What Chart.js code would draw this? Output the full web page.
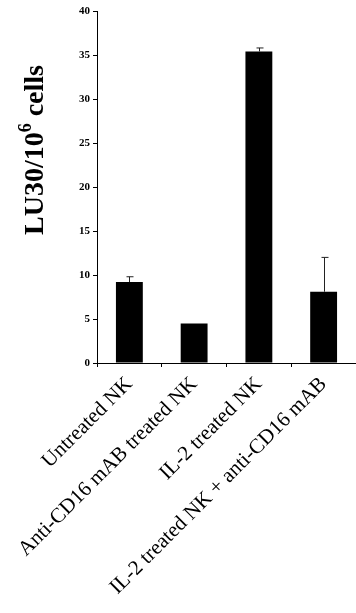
<!DOCTYPE html>
<html>
<head>
<meta charset="utf-8">
<script src="https://cdn.jsdelivr.net/npm/chart.js@4"></script>
<style>
  html, body { margin: 0; padding: 0; background: #fff; }
  #wrap { width: 356px; height: 613px; }
</style>
</head>
<body>
<div id="wrap"><canvas id="chart" width="356" height="613"></canvas></div>
<script>
// data
const groups = ['Untreated NK', 'Anti-CD16 mAB treated NK', 'IL-2 treated NK', 'IL-2 treated NK + anti-CD16 mAB'];
const lu30 = [9.2, 4.5, 35.4, 8.1];
const lu30Err = [0.6, 0, 0.4, 3.9];
const yTicks = [0, 5, 10, 15, 20, 25, 30, 35, 40];

const serif = '"Liberation Serif", "Times New Roman", serif';

// upper error whiskers with caps
const errorBars = {
  id: 'errorBars',
  afterDatasetsDraw(chart) {
    const ctx = chart.ctx;
    const y = chart.scales.y;
    const meta = chart.getDatasetMeta(0);
    ctx.save();
    ctx.strokeStyle = '#222';
    ctx.lineWidth = 1;
    meta.data.forEach((bar, i) => {
      if (!lu30Err[i]) return;
      const x = Math.round(bar.x) + 0.5;
      const top = y.getPixelForValue(lu30[i] + lu30Err[i]);
      ctx.beginPath();
      ctx.moveTo(x, bar.y);
      ctx.lineTo(x, top);
      ctx.moveTo(x - 3, top);
      ctx.lineTo(x + 4, top);
      ctx.stroke();
    });
    ctx.restore();
  }
};

// y title with a real superscript
const yTitle = {
  id: 'yTitle',
  afterDraw(chart) {
    const ctx = chart.ctx;
    ctx.save();
    ctx.translate(43, 150);
    ctx.rotate(-Math.PI / 2);
    ctx.fillStyle = '#000';
    ctx.textBaseline = 'alphabetic';
    const big = 'bold 28px ' + serif;
    const small = 'bold 18px ' + serif;
    const parts = [['LU30/10', big, 0], ['6', small, -12], [' cells', big, 0]];
    let total = 0;
    parts.forEach(p => { ctx.font = p[1]; total += ctx.measureText(p[0]).width; });
    let x = -total / 2;
    parts.forEach(p => {
      ctx.font = p[1];
      ctx.fillText(p[0], x, p[2]);
      x += ctx.measureText(p[0]).width;
    });
    ctx.restore();
  }
};

new Chart(document.getElementById('chart').getContext('2d'), {
  type: 'bar',
  data: {
    labels: groups,
    datasets: [{
      data: lu30,
      backgroundColor: '#000',
      borderWidth: 0,
      categoryPercentage: 1,
      barPercentage: 0.415
    }]
  },
  options: {
    responsive: false,
    animation: false,
    layout: { padding: { top: 11, right: 0, left: 0, bottom: 0 } },
    plugins: {
      legend: { display: false },
      tooltip: { enabled: false }
    },
    scales: {
      x: {
        afterFit(scale) { scale.height = 250; },
        border: { color: '#000', width: 1 },
        grid: { drawOnChartArea: false, drawTicks: true, tickLength: 4, color: '#000', offset: true },
        ticks: {
          autoSkip: false,
          minRotation: 45,
          maxRotation: 45,
          color: '#000',
          padding: 5,
          font: { family: serif, size: 21 }
        }
      },
      y: {
        min: 0,
        max: 40,
        afterFit(scale) { scale.width = 97; },
        afterBuildTicks(scale) { scale.ticks = yTicks.map(v => ({ value: v })); },
        border: { color: '#000', width: 1 },
        grid: { drawOnChartArea: false, drawTicks: true, tickLength: 4, color: '#000' },
        ticks: {
          color: '#000',
          padding: 3,
          font: { family: serif, size: 11, weight: 'bold' }
        }
      }
    }
  },
  plugins: [errorBars, yTitle]
});
</script>
</body>
</html>
